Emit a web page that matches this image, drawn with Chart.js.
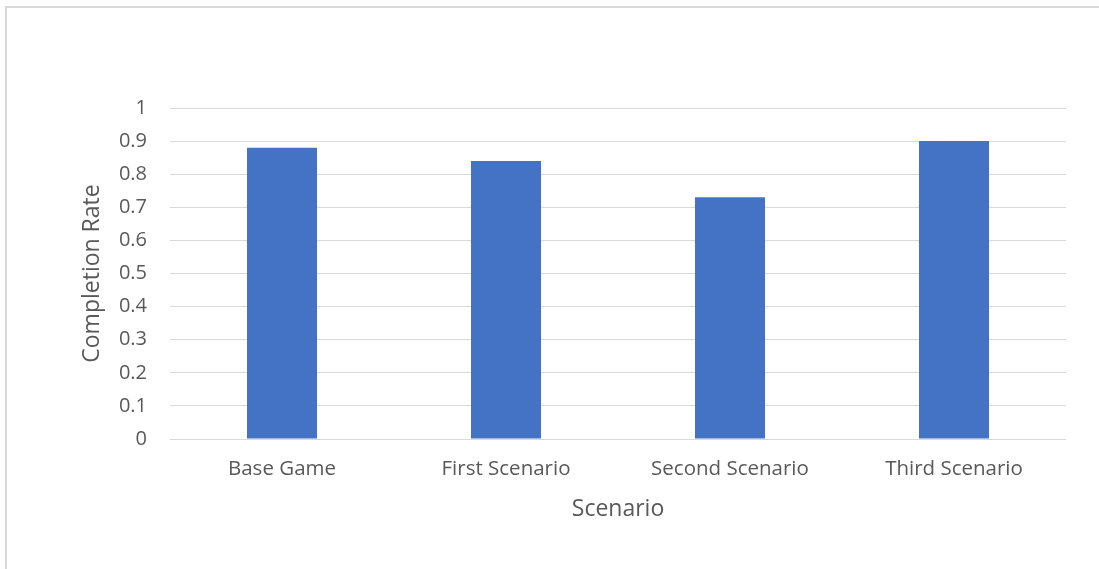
<!DOCTYPE html>
<html>
<head>
<meta charset="utf-8">
<script src="https://cdn.jsdelivr.net/npm/chart.js@4/dist/chart.umd.min.js"></script>
<style>
  html, body { margin: 0; padding: 0; background: #fff; }
  #wrap { position: relative; width: 1099px; height: 569px; }
  #frame { position: absolute; left: 5px; top: 6px; right: 0; bottom: 0; border-left: 2px solid #d9d9d9; border-top: 2px solid #d9d9d9; pointer-events: none; }
  canvas { position: absolute; left: 0; top: 0; }
</style>
</head>
<body>
<div id="wrap">
  <canvas id="c" width="1099" height="569"></canvas>
  <div id="frame"></div>
</div>
<script>
const categories = ["Base Game", "First Scenario", "Second Scenario", "Third Scenario"];
const completionRate = [0.88, 0.84, 0.73, 0.90];
const xTitle = "Scenario";
const yTitle = "Completion Rate";

const textColor = "#595959";
const fontFamily = "'Open Sans', sans-serif";

new Chart(document.getElementById("c"), {
  type: "bar",
  data: {
    labels: categories,
    datasets: [{
      data: completionRate,
      backgroundColor: "#4472c4",
      borderWidth: 0,
      categoryPercentage: 1,
      barPercentage: 0.3125
    }]
  },
  options: {
    responsive: false,
    animation: false,
    layout: { padding: { top: 108, right: 33, left: 0, bottom: 0 } },
    plugins: { legend: { display: false }, tooltip: { enabled: false } },
    scales: {
      x: {
        grid: { display: false, drawTicks: false },
        border: { display: false },
        ticks: { color: textColor, font: { family: fontFamily, size: 20.5 }, padding: 18, maxRotation: 0 },
        title: { display: true, text: xTitle, color: textColor, font: { family: fontFamily, size: 23 }, padding: { top: 0, bottom: 46 } },
        afterFit: (s) => { s.height = 130; }
      },
      y: {
        min: 0, max: 1,
        grid: { color: "#d9d9d9", lineWidth: 1, drawTicks: false },
        border: { display: false },
        ticks: { stepSize: 0.1, color: textColor, font: { family: fontFamily, size: 20 }, padding: 23,
          callback: (v) => Math.round(v * 10) / 10 },
        title: { display: true, text: yTitle, color: textColor, font: { family: fontFamily, size: 23 }, padding: { top: 79, bottom: 0 } },
        afterFit: (s) => { s.width = 170; }
      }
    }
  }
});
</script>
</body>
</html>
